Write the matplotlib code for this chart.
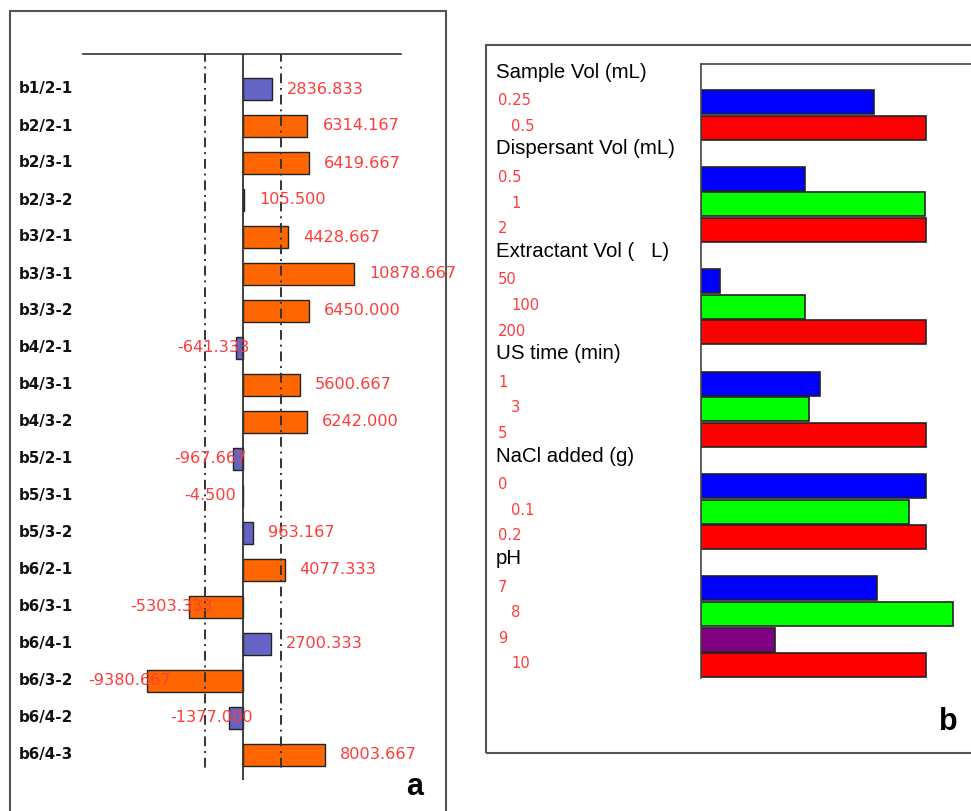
import numpy as np
import matplotlib
matplotlib.use("Agg")
import matplotlib.pyplot as plt
from matplotlib.patches import Rectangle
from matplotlib.transforms import blended_transform_factory

# Panel a: effect estimates for each contrast
effect_labels = ["b1/2-1", "b2/2-1", "b2/3-1", "b2/3-2", "b3/2-1", "b3/3-1",
                 "b3/3-2", "b4/2-1", "b4/3-1", "b4/3-2", "b5/2-1", "b5/3-1",
                 "b5/3-2", "b6/2-1", "b6/3-1", "b6/4-1", "b6/3-2", "b6/4-2",
                 "b6/4-3"]
effect_values = [2836.833, 6314.167, 6419.667, 105.500, 4428.667, 10878.667,
                 6450.000, -641.333, 5600.667, 6242.000, -967.667, -4.500,
                 963.167, 4077.333, -5303.333, 2700.333, -9380.667, -1377.000,
                 8003.667]
critical_limit = 3700

# Panel b: factor levels and their responses
factor_names = ["Sample Vol (mL)", "Dispersant Vol (mL)", "Extractant Vol (   L)",
                "US time (min)", "NaCl added (g)", "pH"]
factor_levels = [["0.25", "0.5"],
                 ["0.5", "1", "2"],
                 ["50", "100", "200"],
                 ["1", "3", "5"],
                 ["0", "0.1", "0.2"],
                 ["7", "8", "9", "10"]]
level_values = [[0.77, 1.00],
                [0.46, 0.995, 1.00],
                [0.085, 0.46, 1.00],
                [0.53, 0.48, 1.00],
                [1.00, 0.925, 1.00],
                [0.78, 1.12, 0.33, 1.00]]
level_colors = [["#0000ff", "#ff0000"],
                ["#0000ff", "#00ff00", "#ff0000"],
                ["#0000ff", "#00ff00", "#ff0000"],
                ["#0000ff", "#00ff00", "#ff0000"],
                ["#0000ff", "#00ff00", "#ff0000"],
                ["#0000ff", "#00ff00", "#800080", "#ff0000"]]

W, H = 971, 811
fig = plt.figure(figsize=(W / 100, H / 100), dpi=100)


def fx(px):
    return px / W


def fy(py):
    return 1 - py / H


# frames around the two panels
fig.add_artist(Rectangle((fx(10), fy(830)), fx(436), fy(11) - fy(830),
                         transform=fig.transFigure, fill=False,
                         edgecolor="#555555", lw=1.5))
fig.add_artist(Rectangle((fx(486), fy(753)), fx(520), fy(45) - fy(753),
                         transform=fig.transFigure, fill=False,
                         edgecolor="#555555", lw=1.5))

# ---- panel a ----
ax1 = fig.add_axes([fx(83), fy(780), fx(401) - fx(83), fy(54) - fy(780)])
scale = 98.0  # units per pixel
ax1.set_xlim(-(243 - 83) * scale, (401 - 243) * scale)
ax1.set_ylim((780 - 89) / 37, -(89 - 54) / 37)
for s in ["left", "right", "bottom"]:
    ax1.spines[s].set_visible(False)
ax1.spines["top"].set_color("#333333")
ax1.spines["top"].set_linewidth(1.2)
ax1.set_xticks([])
ax1.set_yticks([])

rows = np.arange(len(effect_labels))
vals = np.array(effect_values)
bar_colors = np.where(np.abs(vals) > critical_limit, "#ff6600", "#6464c4")
ax1.barh(rows, vals, height=0.62, color=bar_colors, edgecolor="#222222",
         linewidth=1, zorder=2)
ax1.axvline(0, color="#333333", lw=1.3, zorder=3)
ax1.vlines([-critical_limit, critical_limit], ymin=-1, ymax=18.35,
           colors="#333333", lw=1.4, linestyles=[(0, (5, 2.5, 1, 2.5))],
           zorder=4)

lab_tr = blended_transform_factory(fig.transFigure, ax1.transData)
for r, (lab, v) in enumerate(zip(effect_labels, effect_values)):
    ax1.text(fx(19), r, lab, transform=lab_tr, ha="left", va="center",
             fontsize=10.9, fontweight="bold", color="#111111")
    off = 15 if v >= 0 else -59
    ax1.annotate(f"{v:.3f}", xy=(v, r), xytext=(off, 0),
                 textcoords="offset pixels", ha="left", va="center",
                 fontsize=11.6, color="#ff3b3b", zorder=5,
                 annotation_clip=False)

fig.text(fx(415), fy(787), "a", ha="center", va="center", fontsize=22,
         fontweight="bold", family="Liberation Sans", color="black")

# ---- panel b ----
pitch = 25.6
row0 = 76.4
ax2 = fig.add_axes([fx(701), fy(677.7), fx(1.3 * 225), fy(64) - fy(677.7)])
ax2.set_xlim(0, 1.3)
ax2.set_ylim((677.7 - row0) / pitch, (64 - row0) / pitch)
ax2.spines["bottom"].set_visible(False)
ax2.spines["right"].set_visible(False)
for s in ["left", "top"]:
    ax2.spines[s].set_color("#444444")
    ax2.spines[s].set_linewidth(1.2)
ax2.set_xticks([])
ax2.set_yticks([])

text_tr = blended_transform_factory(fig.transFigure, ax2.transData)
r = 0
for name, levels, values, colors in zip(factor_names, factor_levels,
                                        level_values, level_colors):
    ax2.text(fx(496), r - 0.17, name, transform=text_tr, ha="left",
             va="center", fontsize=14.7, family="Liberation Sans",
             color="black")
    r += 1
    ys = np.arange(r, r + len(levels))
    ax2.barh(ys, values, height=0.94, color=colors, edgecolor="#222222",
             linewidth=1.2, zorder=2)
    for k, (lv, y) in enumerate(zip(levels, ys)):
        x0 = 498 if k % 2 == 0 else 511
        ax2.text(fx(x0), y - 0.05, lv, transform=text_tr, ha="left",
                 va="center", fontsize=10.6, color="#ff3b3b")
    r += len(levels)

fig.text(fx(948), fy(722), "b", ha="center", va="center", fontsize=22,
         fontweight="bold", family="Liberation Sans", color="black")

fig.savefig("out.png", dpi=100)
